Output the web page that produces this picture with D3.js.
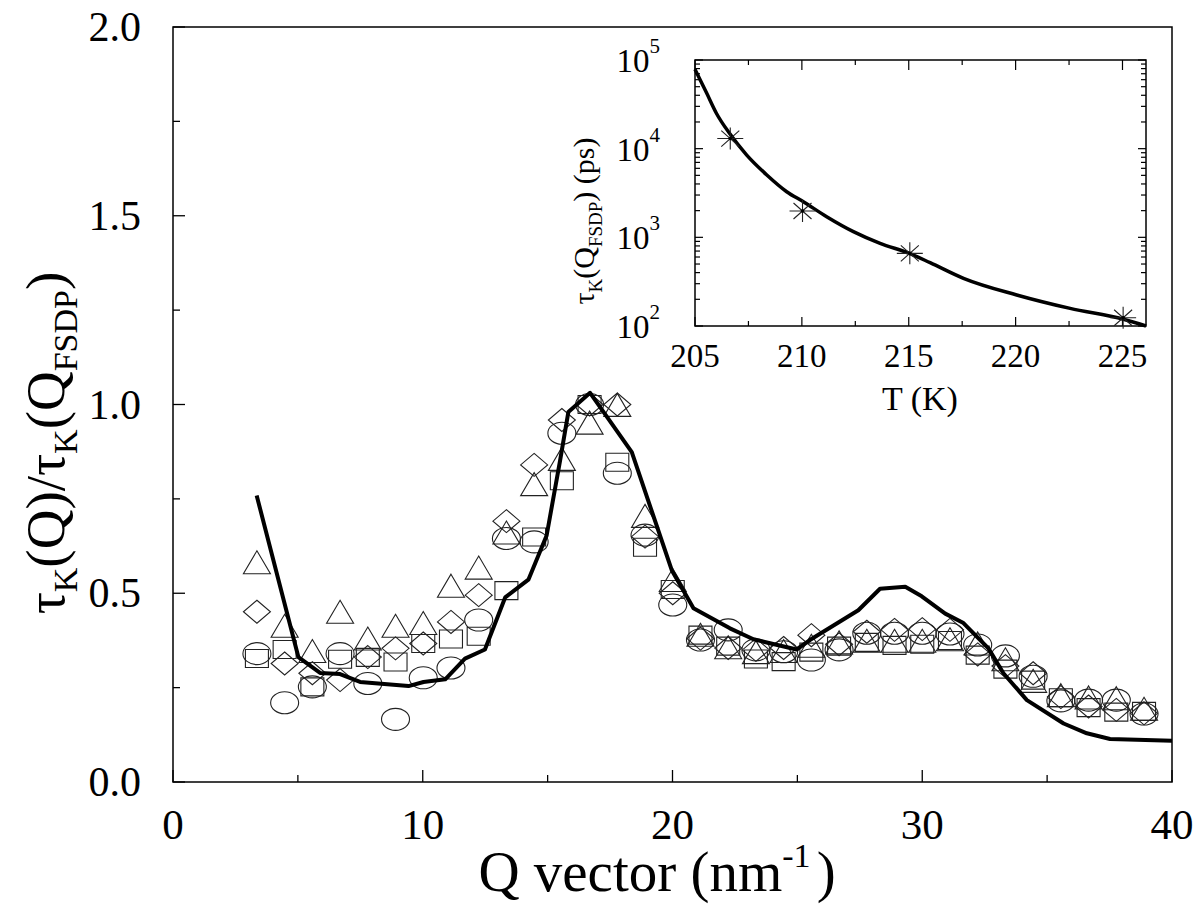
<!DOCTYPE html>
<html>
<head>
<meta charset="utf-8">
<script src="https://cdn.jsdelivr.net/npm/d3@7"></script>
<style>
  body { margin: 0; background: #fff; }
  svg text { font-family: "Liberation Serif", "Times New Roman", serif; fill: #000; }
</style>
</head>
<body>
<svg id="chart" width="1202" height="905"></svg>
<script>
// main panel: tau_K(Q)/tau_K(Q_FSDP) vs Q, four temperatures
const qValues = [3.36, 4.47, 5.58, 6.69, 7.80, 8.91, 10.02, 11.13, 12.24, 13.35, 14.46,
  15.57, 16.68, 17.79, 18.90, 20.01, 21.12, 22.23, 23.34, 24.45, 25.56, 26.67,
  27.78, 28.89, 30.00, 31.11, 32.22, 33.33, 34.44, 35.55, 36.66, 37.77, 38.88]
const circleVals = [0.340, 0.210, 0.252, 0.340, 0.261, 0.166, 0.276, 0.302, 0.429, 0.645, 0.636,
  0.924, 1.000, 0.818, 0.654, 0.469, 0.376, 0.403, 0.350, 0.345, 0.323, 0.350,
  0.394, 0.394, 0.394, 0.392, 0.363, 0.334, 0.280, 0.215, 0.217, 0.217, 0.180]
const squareVals = [0.327, 0.351, 0.252, 0.325, 0.330, 0.318, 0.367, 0.379, 0.386, 0.507, 0.649,
  0.798, 1.000, 0.847, 0.622, 0.510, 0.389, 0.360, 0.326, 0.319, 0.344, 0.360,
  0.370, 0.362, 0.365, 0.375, 0.336, 0.299, 0.270, 0.223, 0.197, 0.185, 0.187]
const diamondVals = [0.451, 0.314, 0.288, 0.270, 0.331, 0.354, 0.367, 0.424, 0.495, 0.691, 0.840,
  0.959, 1.000, 1.000, 0.650, 0.500, 0.380, 0.355, 0.350, 0.355, 0.389, 0.365,
  0.398, 0.403, 0.405, 0.403, 0.338, 0.307, 0.288, 0.225, 0.200, 0.191, 0.182]
const triangleVals = [0.582, 0.414, 0.347, 0.451, 0.380, 0.414, 0.421, 0.520, 0.568, 0.661, 0.789,
  0.856, 0.952, 0.999, 0.705, 0.535, 0.390, 0.357, 0.344, 0.347, 0.361, 0.370,
  0.374, 0.374, 0.374, 0.378, 0.367, 0.325, 0.268, 0.230, 0.224, 0.222, 0.194]

// thick solid curve
const lineQ = [3.35, 5.02, 5.89, 6.69, 7.49, 9.43, 10.03, 10.9, 11.69, 12.49, 13.3, 14.23,
  14.96, 15.5, 15.83, 16.7, 18.37, 19.97, 20.84, 22.3, 23.24, 24.97, 25.5, 27.44,
  28.31, 29.32, 29.98, 30.92, 31.65, 32.65, 33.25, 34.19, 35.66, 36.59, 37.52, 40]
const lineVals = [0.759, 0.331, 0.289, 0.286, 0.265, 0.254, 0.265, 0.272, 0.327, 0.351, 0.489, 0.536,
  0.653, 0.852, 0.98, 1.031, 0.874, 0.561, 0.46, 0.407, 0.378, 0.351, 0.376, 0.455,
  0.512, 0.517, 0.492, 0.446, 0.421, 0.354, 0.288, 0.217, 0.155, 0.129, 0.114, 0.109]

const xTicks = [0, 10, 20, 30, 40]
const yTicks = [0, 0.5, 1.0, 1.5, 2.0]
const yTickLabels = ['0.0', '0.5', '1.0', '1.5', '2.0']

// inset: tau_K(Q_FSDP) vs T
const insetT = [206.65, 210.03, 215.05, 225.03]
const insetTau = [13000, 1980, 660, 124]
const fitT = [205.0, 205.55, 206.0, 206.64, 207.42, 208.36, 209.29, 210.07, 211.16, 212.41,
  213.66, 215.06, 216.0, 217.56, 220.05, 222.55, 225.05, 226.1]
const fitTau = [78500, 42100, 25100, 14600, 8470, 5050, 3270, 2520, 1710, 1160,
  855, 655, 518, 345, 224, 158, 119, 100]
const insetXTicks = [205, 210, 215, 220, 225]
const insetYTicks = [100, 1000, 10000, 100000]
const insetYExp = ['2', '3', '4', '5']

const svg = d3.select('#chart')
const margin = {left: 173, top: 27, right: 1172, bottom: 782}

const x = d3.scaleLinear().domain([0, 40]).range([margin.left, margin.right])
const y = d3.scaleLinear().domain([0, 2]).range([margin.bottom, margin.top])

svg.append('rect').attr('width', 1202).attr('height', 905).attr('fill', '#fff')

// frame
svg.append('rect')
    .attr('x', margin.left).attr('y', margin.top)
    .attr('width', margin.right - margin.left)
    .attr('height', margin.bottom - margin.top)
    .attr('fill', 'none').attr('stroke', '#000').attr('stroke-width', 1.5)

// x axis ticks (inward)
const xAxis = svg.append('g').attr('transform', 'translate(0,' + margin.bottom + ')')
xAxis.selectAll('line')
    .data(d3.range(0, 41, 5))
    .join('line')
    .attr('x1', d => x(d)).attr('x2', d => x(d))
    .attr('y1', 0).attr('y2', d => d % 10 === 0 ? -12 : -7)
    .attr('stroke', '#000').attr('stroke-width', 1.3)
xAxis.selectAll('text')
    .data(xTicks)
    .join('text')
    .attr('x', d => x(d)).attr('y', 57)
    .attr('text-anchor', 'middle')
    .style('font-size', '43px')
    .text(d => d)

// y axis ticks
const yAxis = svg.append('g').attr('transform', 'translate(' + margin.left + ',0)')
yAxis.selectAll('line')
    .data(d3.range(0, 2.01, 0.25))
    .join('line')
    .attr('x1', 0).attr('x2', d => Math.round(d * 4) % 2 === 0 ? 12 : 7)
    .attr('y1', d => y(d)).attr('y2', d => y(d))
    .attr('stroke', '#000').attr('stroke-width', 1.3)
yAxis.selectAll('text')
    .data(yTicks)
    .join('text')
    .attr('x', -32).attr('y', d => y(d) + 14)
    .attr('text-anchor', 'end')
    .style('font-size', '42px')
    .text((d, i) => yTickLabels[i])

// axis titles
const xTitle = svg.append('text')
    .attr('x', 657).attr('y', 891)
    .attr('text-anchor', 'middle')
    .style('font-size', '57px')
xTitle.append('tspan').text('Q vector (nm')
xTitle.append('tspan').attr('dy', -24).style('font-size', '34px').text('-1')
xTitle.append('tspan').attr('dy', 24).attr('dx', 6).text(')')

const yTitle = svg.append('text')
    .attr('transform', 'translate(64,443) rotate(-90)')
    .attr('text-anchor', 'middle')
    .style('font-size', '55px')
yTitle.append('tspan').text('\u03c4')
yTitle.append('tspan').attr('dy', 13).style('font-size', '34px').text('K')
yTitle.append('tspan').attr('dy', -13).text('(Q)/\u03c4')
yTitle.append('tspan').attr('dy', 13).style('font-size', '34px').text('K')
yTitle.append('tspan').attr('dy', -13).text('(Q')
yTitle.append('tspan').attr('dy', 13).style('font-size', '34px').text('FSDP')
yTitle.append('tspan').attr('dy', -13).text(')')

// markers
const markers = [
    {vals: circleVals, shape: 'circle'},
    {vals: squareVals, shape: 'square'},
    {vals: diamondVals, shape: 'diamond'},
    {vals: triangleVals, shape: 'triangle'}
]
const shapePath = {
    circle: 'M-14,0 A14,11 0 1,0 14,0 A14,11 0 1,0 -14,0 Z',
    square: 'M-11.5,-9 L11.5,-9 L11.5,9 L-11.5,9 Z',
    diamond: 'M0,-11.5 L13.5,0 L0,11.5 L-13.5,0 Z',
    triangle: 'M0,-11.5 L13.5,11.5 L-13.5,11.5 Z'
}
markers.forEach(m => {
    svg.append('g')
        .selectAll('path')
        .data(qValues.map((q, i) => [q, m.vals[i]]))
        .join('path')
        .attr('d', shapePath[m.shape])
        .attr('transform', d => 'translate(' + x(d[0]) + ',' + y(d[1]) + ')')
        .attr('fill', 'none')
        .attr('stroke', '#222')
        .attr('stroke-width', 1.1)
})

const line = d3.line().x(d => x(d[0])).y(d => y(d[1]))
svg.append('path')
    .datum(lineQ.map((q, i) => [q, lineVals[i]]))
    .attr('d', line)
    .attr('fill', 'none')
    .attr('stroke', '#000')
    .attr('stroke-width', 4)
    .attr('stroke-linejoin', 'round')

// ---- inset ----
const ix = d3.scaleLinear().domain([205, 226.1]).range([695, 1146])
const iy = d3.scaleLog().domain([100, 1e5]).range([326, 60])
const inset = svg.append('g')

inset.append('rect')
    .attr('x', 695).attr('y', 60).attr('width', 451).attr('height', 266)
    .attr('fill', 'none').attr('stroke', '#000').attr('stroke-width', 1.5)

const ixTicks = d3.range(205, 226, 2.5)
inset.selectAll('.ixb')
    .data(ixTicks)
    .join('line')
    .attr('x1', d => ix(d)).attr('x2', d => ix(d))
    .attr('y1', 326).attr('y2', d => d % 5 === 0 ? 317 : 321)
    .attr('stroke', '#000').attr('stroke-width', 1.2)
inset.selectAll('.ixt')
    .data(ixTicks)
    .join('line')
    .attr('x1', d => ix(d)).attr('x2', d => ix(d))
    .attr('y1', 60).attr('y2', d => d % 5 === 0 ? 70 : 65)
    .attr('stroke', '#000').attr('stroke-width', 1.2)

const logMinor = []
insetYTicks.forEach(dec => { for (let m = 1; m < 10; m++) if (dec * m <= 1e5) logMinor.push(dec * m) })
inset.selectAll('.iyl')
    .data(logMinor)
    .join('line')
    .attr('x1', 695).attr('x2', d => insetYTicks.includes(d) ? 703 : 700)
    .attr('y1', d => iy(d)).attr('y2', d => iy(d))
    .attr('stroke', '#000').attr('stroke-width', 1.2)
inset.selectAll('.iyr')
    .data(logMinor)
    .join('line')
    .attr('x1', 1146).attr('x2', d => insetYTicks.includes(d) ? 1138 : 1141)
    .attr('y1', d => iy(d)).attr('y2', d => iy(d))
    .attr('stroke', '#000').attr('stroke-width', 1.2)

inset.selectAll('.ixlab')
    .data(insetXTicks)
    .join('text')
    .attr('x', d => ix(d)).attr('y', 367)
    .attr('text-anchor', 'middle')
    .style('font-size', '33px')
    .text(d => d)

insetYTicks.forEach((d, i) => {
    const t = inset.append('text')
        .attr('x', 660).attr('y', iy(d) + 12)
        .attr('text-anchor', 'end')
        .style('font-size', '33px')
    t.append('tspan').text('10')
    t.append('tspan').attr('dy', -19).style('font-size', '21px').text(insetYExp[i])
})

inset.append('text')
    .attr('x', 920).attr('y', 410)
    .attr('text-anchor', 'middle')
    .style('font-size', '34px')
    .text('T (K)')

const iTitle = inset.append('text')
    .attr('transform', 'translate(594,221) rotate(-90)')
    .attr('text-anchor', 'middle')
    .style('font-size', '30px')
iTitle.append('tspan').text('\u03c4')
iTitle.append('tspan').attr('dy', 8).style('font-size', '19px').text('K')
iTitle.append('tspan').attr('dy', -8).text('(Q')
iTitle.append('tspan').attr('dy', 8).style('font-size', '19px').text('FSDP')
iTitle.append('tspan').attr('dy', -8).text(') (ps)')

const fitLine = d3.line().x(d => ix(d[0])).y(d => iy(d[1])).curve(d3.curveMonotoneX)
inset.append('path')
    .datum(fitT.map((t, i) => [t, fitTau[i]]))
    .attr('d', fitLine)
    .attr('fill', 'none')
    .attr('stroke', '#000')
    .attr('stroke-width', 3.5)

const stars = inset.selectAll('.star')
    .data(insetT.map((t, i) => [t, insetTau[i]]))
    .join('g')
    .attr('transform', d => 'translate(' + ix(d[0]) + ',' + iy(d[1]) + ')')
stars.append('path')
    .attr('d', 'M-13,0 L13,0 M0,-11 L0,11 M-9,-8 L9,8 M-9,8 L9,-8')
    .attr('stroke', '#222').attr('stroke-width', 1.1)
stars.append('circle').attr('r', 1.8).attr('fill', '#000')
</script>
</body>
</html>
